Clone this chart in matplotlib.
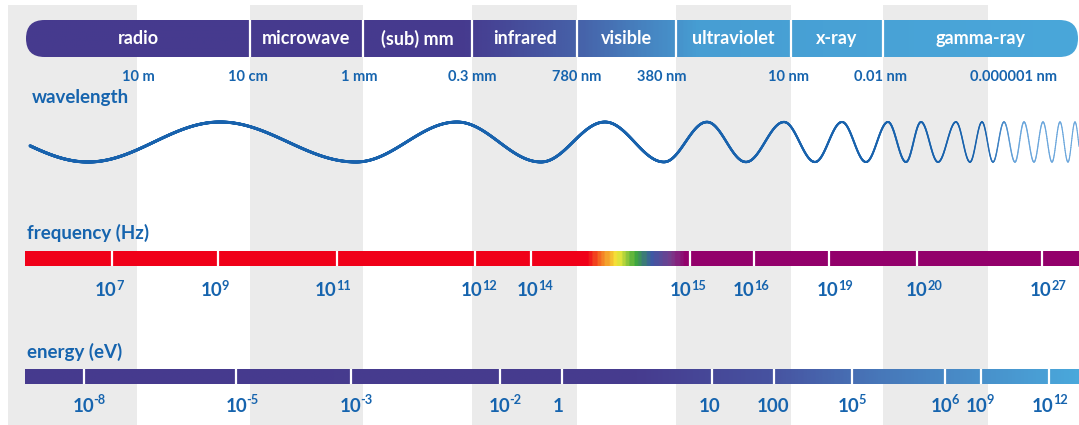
import matplotlib
matplotlib.use("Agg")
import matplotlib.pyplot as plt
import numpy as np
from matplotlib.colors import LinearSegmentedColormap, to_rgb
from matplotlib.patches import FancyBboxPatch, Rectangle
from matplotlib.collections import LineCollection

plt.rcParams['font.family'] = ['Lato', 'DejaVu Sans']

W, H = 1079, 425

# spectrum bands (top bar) and their edges
bands = ['radio', 'microwave', '(sub) mm', 'infrared', 'visible',
         'ultraviolet', 'x-ray', 'gamma-ray']
band_edges = [26, 250, 363, 472, 577, 676, 791, 883, 1078]

# light gray background columns
gray_left = [8, 250, 472, 676, 883]
gray_right = [137, 363, 577, 791, 988]

# wavelength marks
wl_labels = ['10 m', '10 cm', '1 mm', '0.3 mm', '780 nm', '380 nm',
             '10 nm', '0.01 nm', '0.000001 nm']
wl_pos = [138, 248, 359, 472, 577, 662, 789, 880, 1014]

# x of successive wave extrema (first one is a trough)
wave_extrema = [88, 220, 356, 457, 541, 605, 664, 707, 746, 784, 815, 842,
                866, 888, 906, 921, 938, 956, 970, 982, 993, 1004, 1015,
                1024, 1034, 1043, 1052, 1060, 1068, 1075]

# frequency bar
freq_div = [112, 218, 337, 475, 531, 690, 754, 829, 917, 1042]
freq_lab = ['10^7', '10^9', '10^11', '10^12', '10^14', '10^15', '10^16',
            '10^19', '10^20', '10^27']
freq_lab_x = [109, 215, 333, 479, 535, 688, 751, 835, 924, 1048]

# energy bar
energy_div = [84, 236, 351, 500, 562, 712, 774, 852, 945, 981, 1049]
energy_lab = ['10^-8', '10^-5', '10^-3', '10^-2', '1', '10', '100',
              '10^5', '10^6', '10^9', '10^12']
energy_lab_x = [89, 242, 356, 505, 558, 710, 773, 852, 945, 980, 1050]

BLUE = '#1664AE'
GRAY = '#EBEBEB'


def gradient_bar(ax, x0, x1, y0, y1, stops, clip=None):
    pos = [(p - x0) / (x1 - x0) for p, _ in stops]
    cmap = LinearSegmentedColormap.from_list('g', list(zip(pos, [c for _, c in stops])))
    img = cmap(np.linspace(0, 1, 600))[None, :, :3]
    im = ax.imshow(img, extent=(x0, x1, y1, y0), aspect='auto', zorder=3,
                   interpolation='bilinear')
    if clip is not None:
        im.set_clip_path(clip)
    return im


def power_label(ax, renderer, x, y, label, fs=13.5):
    # "10^7" -> bold base with a raised, smaller exponent, centred on x
    base, _, exp = label.partition('^')
    tb = ax.text(x, y, base, color=BLUE, fontsize=fs, fontweight='bold',
                 ha='left', va='center', zorder=5)
    wb = tb.get_window_extent(renderer).width
    if not exp:
        tb.set_x(x - wb / 2)
        return
    te = ax.text(x, y - 5.5, exp, color=BLUE, fontsize=fs * 0.68,
                 fontweight='bold', ha='left', va='center', zorder=5)
    we = te.get_window_extent(renderer).width
    gap = -0.5
    start = x - (wb + we + gap) / 2
    tb.set_x(start)
    te.set_x(start + wb + gap)


fig = plt.figure(figsize=(W / 100, H / 100), dpi=100)
ax = fig.add_axes([0, 0, 1, 1])
ax.axis('off')
ax.set_xlim(0, W)
ax.set_ylim(H, 0)
renderer = fig.canvas.get_renderer()

# gray columns
for l, r in zip(gray_left, gray_right):
    ax.add_patch(Rectangle((l, 5), r - l, H - 5, color=GRAY, lw=0, zorder=0))

# top bar with gradient
top_y0, top_y1 = 20, 57
patch = FancyBboxPatch((band_edges[0], top_y0), band_edges[-1] - band_edges[0],
                       top_y1 - top_y0,
                       boxstyle='round,pad=0,rounding_size=18.5',
                       fc='none', ec='none', zorder=3)
ax.add_patch(patch)
gradient_bar(ax, band_edges[0], band_edges[-1], top_y0, top_y1,
             [(26, '#463A8E'), (465, '#463B8F'), (580, '#4662A9'),
              (700, '#479ED3'), (1078, '#4AA7DA')], clip=patch)
ax.vlines(band_edges[1:-1], top_y0, top_y1, color='white', lw=1.6, zorder=4)
for name, l, r in zip(bands, band_edges[:-1], band_edges[1:]):
    ax.text((l + r) / 2, 38.5, name, color='white', fontsize=13,
            fontweight='bold', ha='center', va='center', zorder=5)

# wavelength marks
for lab, x in zip(wl_labels, wl_pos):
    ax.text(x, 77, lab, color=BLUE, fontsize=10.5, fontweight='bold',
            ha='center', va='center', zorder=5)
ax.text(32, 97, 'wavelength', color=BLUE, fontsize=13.5, fontweight='bold',
        ha='left', va='center', zorder=5)

# wave
ext = np.array(wave_extrema, dtype=float)
k = np.arange(len(ext), dtype=float)
xs = np.linspace(30, 1079, 4000)
kk = np.interp(xs, ext, k)
left = xs < ext[0]
kk[left] = (xs[left] - ext[0]) / (ext[1] - ext[0])
right = xs > ext[-1]
kk[right] = k[-1] + (xs[right] - ext[-1]) / (ext[-1] - ext[-2])
ys = 142 + 20 * np.cos(np.pi * kk)
pts = np.column_stack([xs, ys]).reshape(-1, 1, 2)
segs = np.concatenate([pts[:-1], pts[1:]], axis=1)
xm = (xs[:-1] + xs[1:]) / 2
widths = np.interp(xm, [30, 600, 880, 990, 1079], [2.2, 2.0, 1.4, 1.0, 0.8])
c0, c1 = np.array(to_rgb('#1862AD')), np.array(to_rgb('#6AA6DC'))
t = np.clip((xm - 985) / 30, 0, 1)[:, None]
cols = c0 * (1 - t) + c1 * t
ax.add_collection(LineCollection(segs, linewidths=widths, colors=cols,
                                 capstyle='round', zorder=4))

# frequency
ax.text(27, 233, 'frequency (Hz)', color=BLUE, fontsize=13.5, fontweight='bold',
        ha='left', va='center', zorder=5)
f_y0, f_y1 = 251, 266
gradient_bar(ax, 25, 1079, f_y0, f_y1,
             [(25, '#F00019'), (588, '#F00019'), (600, '#F46A22'),
              (618, '#F6EC3A'), (636, '#3FAA3C'), (652, '#3A5AA6'),
              (672, '#7A3B8B'), (686, '#93006B'), (1079, '#93006B')])
ax.vlines(freq_div, f_y0, f_y1, color='white', lw=1.6, zorder=4)
for lab, x in zip(freq_lab, freq_lab_x):
    power_label(ax, renderer, x, 291, lab)

# energy
ax.text(27, 352, 'energy (eV)', color=BLUE, fontsize=13.5, fontweight='bold',
        ha='left', va='center', zorder=5)
e_y0, e_y1 = 369, 384
gradient_bar(ax, 25, 1079, e_y0, e_y1,
             [(25, '#463A8E'), (640, '#463C8F'), (770, '#4752A0'),
              (880, '#4777B9'), (1079, '#4AA8DB')])
ax.vlines(energy_div, e_y0, e_y1, color='white', lw=1.6, zorder=4)
for lab, x in zip(energy_lab, energy_lab_x):
    power_label(ax, renderer, x, 406, lab)

ax.set_xlim(0, W)
ax.set_ylim(H, 0)

fig.savefig('out.png', dpi=100, facecolor='white')
plt.close(fig)
